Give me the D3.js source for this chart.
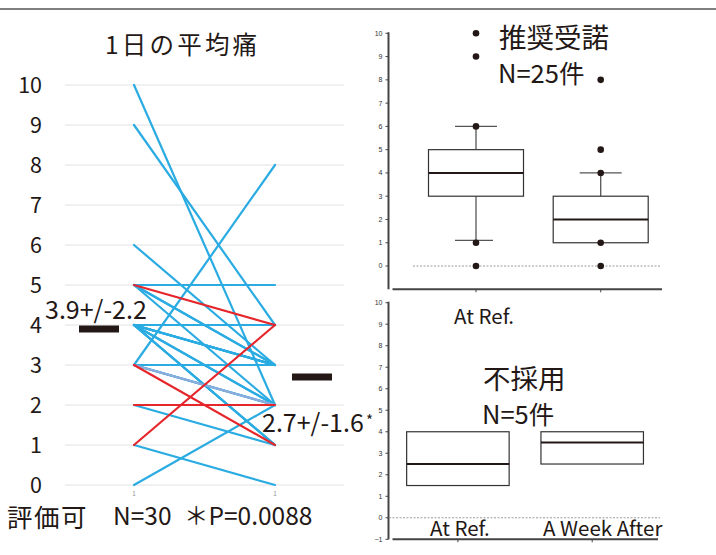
<!DOCTYPE html>
<html>
<head>
<meta charset="utf-8">
<script src="https://cdn.jsdelivr.net/npm/d3@7"></script>
<style>
  html, body { margin: 0; padding: 0; background: #fff; }
  svg { display: block; }
  text { font-family: "Noto Sans CJK JP", "Noto Sans", sans-serif; fill: #231815; }
  .tiny { font-family: "Liberation Sans Narrow", "Liberation Sans", sans-serif; font-size: 7px; fill: #333; }
</style>
</head>
<body>
<svg id="chart" width="716" height="555"></svg>
<script>
// ---- paired pain scores (before -> after), one entry per patient ----
const painBefore = [10, 9, 6, 5, 5, 5, 5, 4, 4, 4, 4, 4, 4, 4, 3, 3, 2, 1, 0, 4, 4, 3, 3, 4, 5, 3, 2, 1, 3, 4];
const painAfter  = [ 2, 4, 3, 5, 3, 3, 2, 4, 4, 3, 3, 2, 2, 1, 8, 3, 1, 0, 2, 3, 3, 2, 2, 1, 4, 1, 2, 4, 2, 1];
const lineGroup  = ["b","b","b","b","b","b","b","b","b","b","b","b","b","b","b","b","b","b","b","b","b","b","b","b",
                    "r","r","r","r","l","b"];
const timepoints = ["1", "1"];
const yTicksLeft = [0, 1, 2, 3, 4, 5, 6, 7, 8, 9, 10];

// summary shown next to each column
const meanValues = [3.9, 2.7];
const sdValues   = [2.2, 1.6];

// ---- box plot summaries ----
const boxLabels = ["At Ref.", "A Week After"];
// 推奨受諾 (N=25)
const acceptQ1     = [3, 1];
const acceptMedian = [4, 2];
const acceptQ3     = [5, 3];
const acceptLow    = [1.1, 1];
const acceptHigh   = [6, 4];
const acceptPoints = [[10, 9, 6, 1, 0], [8, 5, 4, 1, 0]];
// 不採用 (N=5)
const rejectQ1     = [1.5, 2.5];
const rejectMedian = [2.5, 3.5];
const rejectQ3     = [4, 4];
const boxTicks     = [0, 1, 2, 3, 4, 5, 6, 7, 8, 9, 10];
const boxTicksLow  = [-1, 0, 1, 2, 3, 4, 5, 6, 7, 8, 9, 10];

const svg = d3.select("#chart");
const ink = "#231815";

// top rule
svg.append("line").attr("x1", 0).attr("x2", 716).attr("y1", 9).attr("y2", 9)
  .attr("stroke", "#555").attr("stroke-width", 1.5);

// ================= left: paired line chart =================
const xL = d3.scalePoint().domain([0, 1]).range([134, 275]);
const yL = d3.scaleLinear().domain([0, 10]).range([485, 85]);

const gL = svg.append("g");
gL.selectAll("line.grid").data(yTicksLeft).join("line")
  .attr("class", "grid")
  .attr("x1", 65).attr("x2", 344)
  .attr("y1", d => yL(d)).attr("y2", d => yL(d))
  .attr("stroke", "#e2e2e2").attr("stroke-width", 1);

gL.selectAll("text.ylab").data(yTicksLeft).join("text")
  .attr("class", "ylab")
  .attr("x", 42).attr("y", d => yL(d))
  .attr("dy", "0.36em")
  .attr("text-anchor", "end")
  .attr("font-size", 21.5)
  .text(d => d);

const pairs = painBefore.map((b, i) => ({ b, a: painAfter[i], g: lineGroup[i] }));
const colour = { b: "#2aabe2", l: "#8fabdc", r: "#e5262b" };
const order = { b: 0, l: 1, r: 2 };
gL.selectAll("line.pair").data(pairs.slice().sort((p, q) => order[p.g] - order[q.g])).join("line")
  .attr("class", "pair")
  .attr("x1", xL(0)).attr("x2", xL(1))
  .attr("y1", d => yL(d.b)).attr("y2", d => yL(d.a))
  .attr("stroke", d => colour[d.g])
  .attr("stroke-width", 2.2)
  .attr("stroke-linecap", "round");

// category ticks under each column
gL.selectAll("text.xcat").data(timepoints).join("text")
  .attr("class", "xcat")
  .attr("x", (d, i) => xL(i)).attr("y", 496)
  .attr("text-anchor", "middle")
  .attr("font-size", 7).style("fill", "#999")
  .text(d => d);

// mean markers
const meanX = [99, 312];
gL.selectAll("rect.mean").data(meanValues).join("rect")
  .attr("class", "mean")
  .attr("x", (d, i) => meanX[i] - 20).attr("width", 40)
  .attr("y", d => yL(d) - 3.5).attr("height", 7)
  .attr("fill", ink);

gL.append("text").attr("x", 45).attr("y", 319).attr("font-size", 25)
  .text(`${meanValues[0]}+/-${sdValues[0]}`);
gL.append("text").attr("x", 262).attr("y", 432).attr("font-size", 25)
  .text(`${meanValues[1]}+/-${sdValues[1]}`);
gL.append("text").attr("x", 366).attr("y", 426).attr("font-size", 15).text("*");

// title and footer
gL.append("text").attr("x", 105).attr("y", 54).attr("font-size", 24.5)
  .attr("letter-spacing", 3.2).text("1日の平均痛");
gL.append("text").attr("x", 7).attr("y", 527).attr("font-size", 25.5).attr("letter-spacing", 1.5)
  .text("評価可");
gL.append("text").attr("x", 113).attr("y", 525).attr("font-size", 24.5).text("N=30");
gL.append("text").attr("x", 184).attr("y", 525).attr("font-size", 24.5).text("＊P=0.0088");

// ================= right: box plots =================
function boxPanel(opts) {
  const g = svg.append("g");
  const y = d3.scaleLinear().domain([-1, 10]).range([opts.bottom, opts.top]);
  const x = d3.scalePoint().domain(boxLabels).range(opts.centers);

  // y axis
  g.append("line").attr("x1", opts.axisX).attr("x2", opts.axisX)
    .attr("y1", opts.top - 1).attr("y2", opts.bottom)
    .attr("stroke", "#444").attr("stroke-width", 2);
  g.selectAll("line.tk").data(opts.ticks).join("line")
    .attr("class", "tk")
    .attr("x1", opts.axisX - 3).attr("x2", opts.axisX)
    .attr("y1", d => y(d)).attr("y2", d => y(d))
    .attr("stroke", "#444").attr("stroke-width", 1);
  g.selectAll("text.tl").data(opts.ticks).join("text")
    .attr("class", "tiny tl")
    .attr("x", opts.axisX - 6).attr("y", d => y(d)).attr("dy", "0.35em")
    .attr("text-anchor", "end")
    .text(d => d < 0 ? "\u2212" + Math.abs(d) : d);

  // x axis
  g.append("line").attr("x1", opts.axisX + 4).attr("x2", opts.xEnd)
    .attr("y1", opts.bottom).attr("y2", opts.bottom)
    .attr("stroke", "#444").attr("stroke-width", 2);
  g.selectAll("line.xt").data(boxLabels).join("line")
    .attr("class", "xt")
    .attr("x1", d => x(d)).attr("x2", d => x(d))
    .attr("y1", opts.bottom).attr("y2", opts.bottom + 3)
    .attr("stroke", "#444").attr("stroke-width", 1);

  // zero reference
  g.append("line").attr("x1", opts.zeroFrom).attr("x2", opts.zeroTo)
    .attr("y1", y(0)).attr("y2", y(0))
    .attr("stroke", "#999").attr("stroke-width", 1).attr("stroke-dasharray", "2,1.5");

  const boxes = boxLabels.map((k, i) => ({
    k, q1: opts.q1[i], med: opts.med[i], q3: opts.q3[i],
    lo: opts.low ? opts.low[i] : null, hi: opts.high ? opts.high[i] : null,
    pts: opts.points ? opts.points[i] : []
  }));
  const bw = opts.boxWidth;

  boxes.forEach(b => {
    const cx = x(b.k);
    if (b.hi != null && b.hi > b.q3) {
      g.append("line").attr("x1", cx).attr("x2", cx).attr("y1", y(b.q3)).attr("y2", y(b.hi))
        .attr("stroke", "#555").attr("stroke-width", 1.3);
      g.append("line").attr("x1", cx - 21).attr("x2", cx + 21).attr("y1", y(b.hi)).attr("y2", y(b.hi))
        .attr("stroke", "#555").attr("stroke-width", 1.3);
    }
    if (b.lo != null && b.lo < b.q1) {
      g.append("line").attr("x1", cx).attr("x2", cx).attr("y1", y(b.q1)).attr("y2", y(b.lo))
        .attr("stroke", "#555").attr("stroke-width", 1.3);
      g.append("line").attr("x1", cx - 21).attr("x2", cx + 17).attr("y1", y(b.lo)).attr("y2", y(b.lo))
        .attr("stroke", "#555").attr("stroke-width", 1.3);
    }
    g.append("rect").attr("x", cx - bw / 2).attr("width", bw)
      .attr("y", y(b.q3)).attr("height", y(b.q1) - y(b.q3))
      .attr("fill", "#fff").attr("stroke", "#333").attr("stroke-width", 1.2);
    g.append("line").attr("x1", cx - bw / 2).attr("x2", cx + bw / 2)
      .attr("y1", y(b.med)).attr("y2", y(b.med))
      .attr("stroke", ink).attr("stroke-width", 2);
    g.selectAll(null).data(b.pts).join("circle")
      .attr("cx", cx).attr("cy", d => y(d)).attr("r", 3.3).attr("fill", ink);
  });
  return { g, x, y };
}

// 推奨受諾
const acceptPanel = boxPanel({
  top: 33.3, bottom: 289.3, axisX: 388.5, xEnd: 662,
  centers: [476, 600.7], boxWidth: 95, ticks: boxTicks,
  zeroFrom: 413, zeroTo: 661,
  q1: acceptQ1, med: acceptMedian, q3: acceptQ3,
  low: acceptLow, high: acceptHigh, points: acceptPoints
});
acceptPanel.g.append("text").attr("x", 499).attr("y", 48).attr("font-size", 27.5).text("推奨受諾");
acceptPanel.g.append("text").attr("x", 498).attr("y", 83).attr("font-size", 25.5).text("N=25件");
acceptPanel.g.append("text").attr("x", acceptPanel.x(boxLabels[0]) + 8).attr("y", 324)
  .attr("text-anchor", "middle").attr("font-size", 20.5).text(boxLabels[0]);

// 不採用
const rejectPanel = boxPanel({
  top: 302.7, bottom: 539.3, axisX: 388.5, xEnd: 658,
  centers: [457.9, 592.2], boxWidth: 102.5, ticks: boxTicksLow,
  zeroFrom: 389, zeroTo: 660,
  q1: rejectQ1, med: rejectMedian, q3: rejectQ3
});
rejectPanel.g.append("text").attr("x", 483).attr("y", 389).attr("font-size", 27.5).text("不採用");
rejectPanel.g.append("text").attr("x", 482).attr("y", 424).attr("font-size", 25.5).text("N=5件");
const labelShift = [2, 10.5];
rejectPanel.g.selectAll("text.cat").data(boxLabels).join("text")
  .attr("class", "cat")
  .attr("x", (d, i) => rejectPanel.x(d) + labelShift[i]).attr("y", 536)
  .attr("text-anchor", "middle").attr("font-size", 20.5)
  .text(d => d);
</script>
</body>
</html>
